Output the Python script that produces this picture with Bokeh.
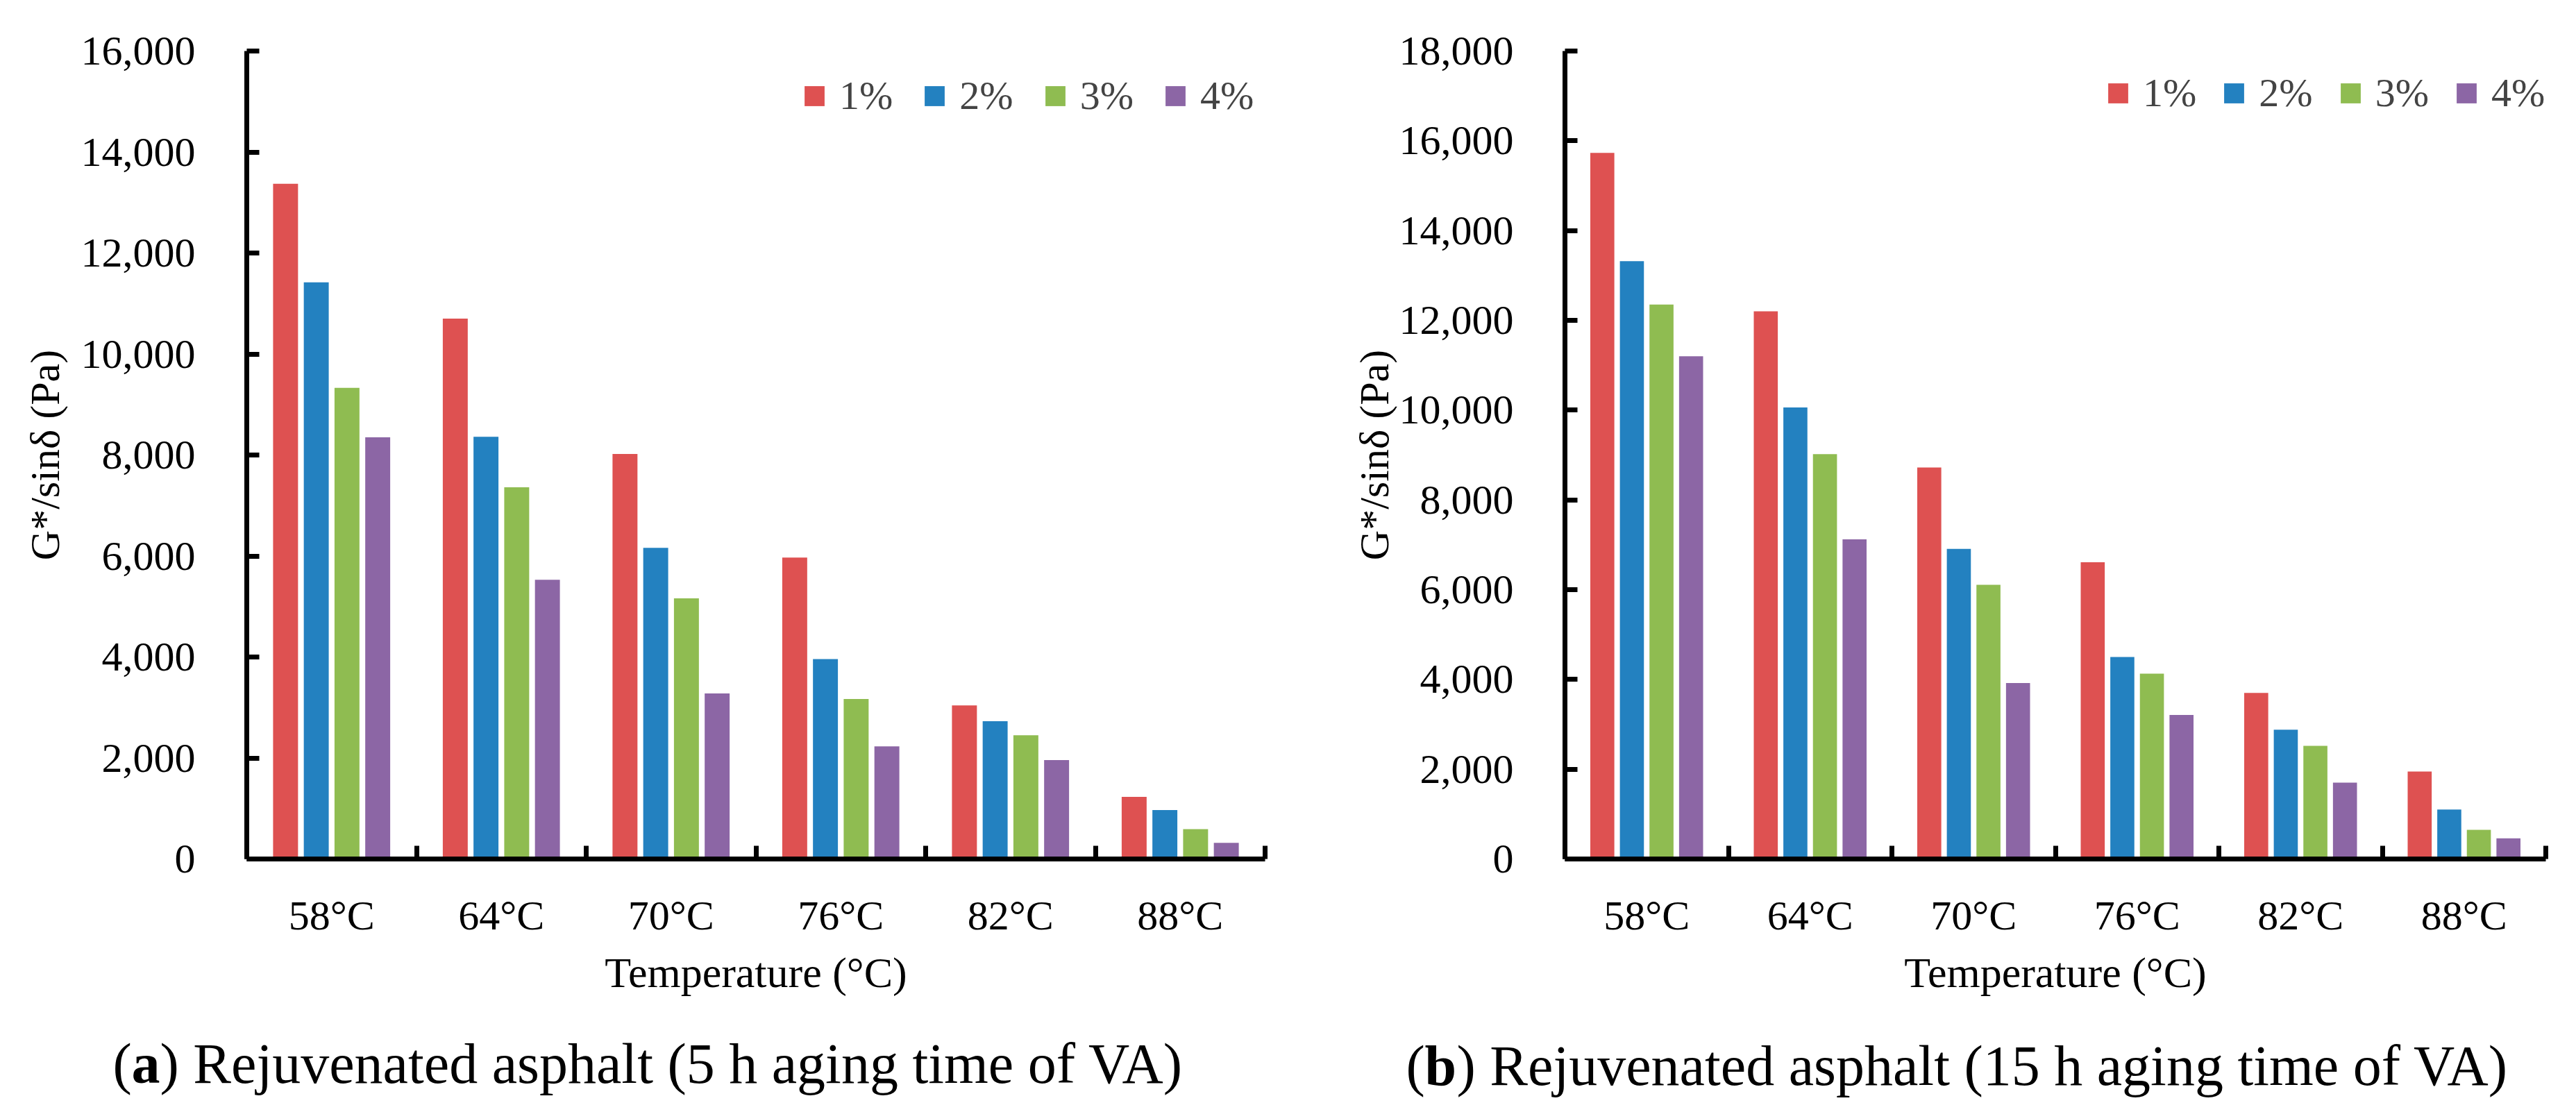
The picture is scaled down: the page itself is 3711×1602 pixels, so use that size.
from bokeh.plotting import figure
from bokeh.models import (FixedTicker, NumeralTickFormatter, Range1d, Legend,
                          LegendItem, ColumnDataSource)
from bokeh.layouts import row, column
from bokeh.embed import file_html
from bokeh.resources import INLINE
from bokeh.transform import dodge
from bokeh.core.properties import value

# ---------------- data ----------------
categories = ["58°C", "64°C", "70°C", "76°C", "82°C", "88°C"]
series = ["1%", "2%", "3%", "4%"]
colors = ["#DE5151", "#2381C0", "#8FBC51", "#8C66A5"]

# (a) 5 h aging time of VA
a_1 = [13370, 10700, 8020, 5970, 3040, 1230]
a_2 = [11420, 8360, 6160, 3960, 2730, 970]
a_3 = [9330, 7360, 5160, 3170, 2450, 590]
a_4 = [8350, 5530, 3280, 2230, 1960, 320]
a_ticks = [0, 2000, 4000, 6000, 8000, 10000, 12000, 14000, 16000]

# (b) 15 h aging time of VA
b_1 = [15730, 12200, 8720, 6610, 3700, 1950]
b_2 = [13320, 10060, 6910, 4500, 2880, 1100]
b_3 = [12350, 9020, 6110, 4130, 2520, 650]
b_4 = [11200, 7120, 3920, 3210, 1700, 460]
b_ticks = [0, 2000, 4000, 6000, 8000, 10000, 12000, 14000, 16000, 18000]

y_title = "G*/sinδ (Pa)"
x_title = "Temperature (°C)"
cap_a = ["(", "a", ") Rejuvenated asphalt (5 h aging time of VA)"]
cap_b = ["(", "b", ") Rejuvenated asphalt (15 h aging time of VA)"]
cap_styles = ["normal", "bold", "normal"]

FONT = "Liberation Serif"
offsets = [-0.2715, -0.0905, 0.0905, 0.2715]
BAR_W = 0.147
CHART_H = 1450
CAP_H = 136


def make_chart(vals, ticks, fig_w, fig_h, b_left, b_right, b_top, b_bottom,
               ytitle_standoff, legend_xy, legend_spacing):
    n = len(categories)
    centers = [i + 0.5 for i in range(n)]
    data = {"x": centers}
    for s, v in zip(series, vals):
        data[s] = v
    src = ColumnDataSource(data)

    p = figure(width=fig_w, height=fig_h,
               x_range=Range1d(0, n), y_range=Range1d(ticks[0], ticks[-1]),
               output_backend="svg", toolbar_location=None,
               min_border_left=b_left, min_border_right=b_right,
               min_border_top=b_top, min_border_bottom=b_bottom)
    p.outline_line_color = None
    p.xgrid.visible = False
    p.ygrid.visible = False
    p.background_fill_color = "white"
    p.border_fill_color = "white"

    items = []
    for s, off, c in zip(series, offsets, colors):
        r = p.vbar(x=dodge("x", off, range=p.x_range), top=s, width=BAR_W,
                   source=src, fill_color=c, line_color=None)
        items.append(LegendItem(label=s, renderers=[r]))

    leg = Legend(items=items, orientation="horizontal", location=legend_xy,
                 glyph_width=36, glyph_height=36, label_standoff=18,
                 spacing=legend_spacing, padding=0, margin=0,
                 border_line_color=None, background_fill_alpha=0,
                 label_text_font=FONT, label_text_font_size="58px",
                 label_height=36, label_text_baseline="middle")
    p.add_layout(leg)

    # y axis
    ya = p.yaxis[0]
    ya.ticker = FixedTicker(ticks=ticks)
    ya.formatter = NumeralTickFormatter(format="0,0")
    ya.axis_line_width = 7
    ya.axis_line_color = "black"
    ya.major_tick_in = 18
    ya.major_tick_out = 0
    ya.major_tick_line_width = 7
    ya.major_tick_line_color = "black"
    ya.minor_tick_line_color = None
    ya.major_label_text_font = FONT
    ya.major_label_text_font_size = "60px"
    ya.major_label_text_color = "black"
    ya.major_label_standoff = 74
    ya.axis_label = y_title
    ya.axis_label_text_font = FONT
    ya.axis_label_text_font_size = "60px"
    ya.axis_label_text_font_style = "normal"
    ya.axis_label_text_color = "black"
    ya.axis_label_standoff = ytitle_standoff

    # x axis: labels at category centres, ticks at category boundaries
    xa = p.xaxis[0]
    xa.ticker = FixedTicker(ticks=centers, minor_ticks=list(range(n + 1)))
    xa.major_label_overrides = {c: lab for c, lab in zip(centers, categories)}
    xa.major_tick_line_color = None
    xa.major_tick_in = 0
    xa.major_tick_out = 0
    xa.minor_tick_in = 19
    xa.minor_tick_out = 0
    xa.minor_tick_line_width = 7
    xa.minor_tick_line_color = "black"
    xa.axis_line_width = 7
    xa.axis_line_color = "black"
    xa.major_label_text_font = FONT
    xa.major_label_text_font_size = "60px"
    xa.major_label_text_color = "black"
    xa.major_label_standoff = 48
    xa.axis_label = x_title
    xa.axis_label_text_font = FONT
    xa.axis_label_text_font_size = "62px"
    xa.axis_label_text_font_style = "normal"
    xa.axis_label_text_color = "black"
    xa.axis_label_standoff = 12
    return p


def make_caption(parts, fig_w, start_x, baseline_y, bold_w):
    paren_w = 27
    xs = [start_x, start_x + paren_w, start_x + paren_w + bold_w]
    src = ColumnDataSource(dict(x=xs, y=[baseline_y] * 3, text=parts, style=cap_styles))
    c = figure(width=fig_w, height=CAP_H, x_range=Range1d(0, fig_w),
               y_range=Range1d(0, CAP_H), output_backend="svg",
               toolbar_location=None, x_axis_location=None, y_axis_location=None,
               min_border_left=0, min_border_right=0, min_border_top=0,
               min_border_bottom=0)
    c.outline_line_color = None
    c.xgrid.visible = False
    c.ygrid.visible = False
    c.text(x="x", y="y", text="text", source=src, text_font=value(FONT),
           text_font_size=value("82px"), text_font_style="style",
           text_align="left", text_baseline="alphabetic", text_color="black")
    return c


p1 = make_chart([a_1, a_2, a_3, a_4], a_ticks, 1842, CHART_H, 355, 20, 72,
                CHART_H - 72 - 1165, 16, (800, 1066), 42)
p2 = make_chart([b_1, b_2, b_3, b_4], b_ticks, 1853, CHART_H, 412, 28, 73,
                CHART_H - 73 - 1168, 0, (779, 1070), 36)
c1 = make_caption(cap_a, 1842, 162, 54, 41)
c2 = make_caption(cap_b, 1853, 183, 51, 46)

layout = column(row(p1, p2, spacing=0), row(c1, c2, spacing=0), spacing=0)
open("out.html", "w").write(file_html(layout, INLINE))
